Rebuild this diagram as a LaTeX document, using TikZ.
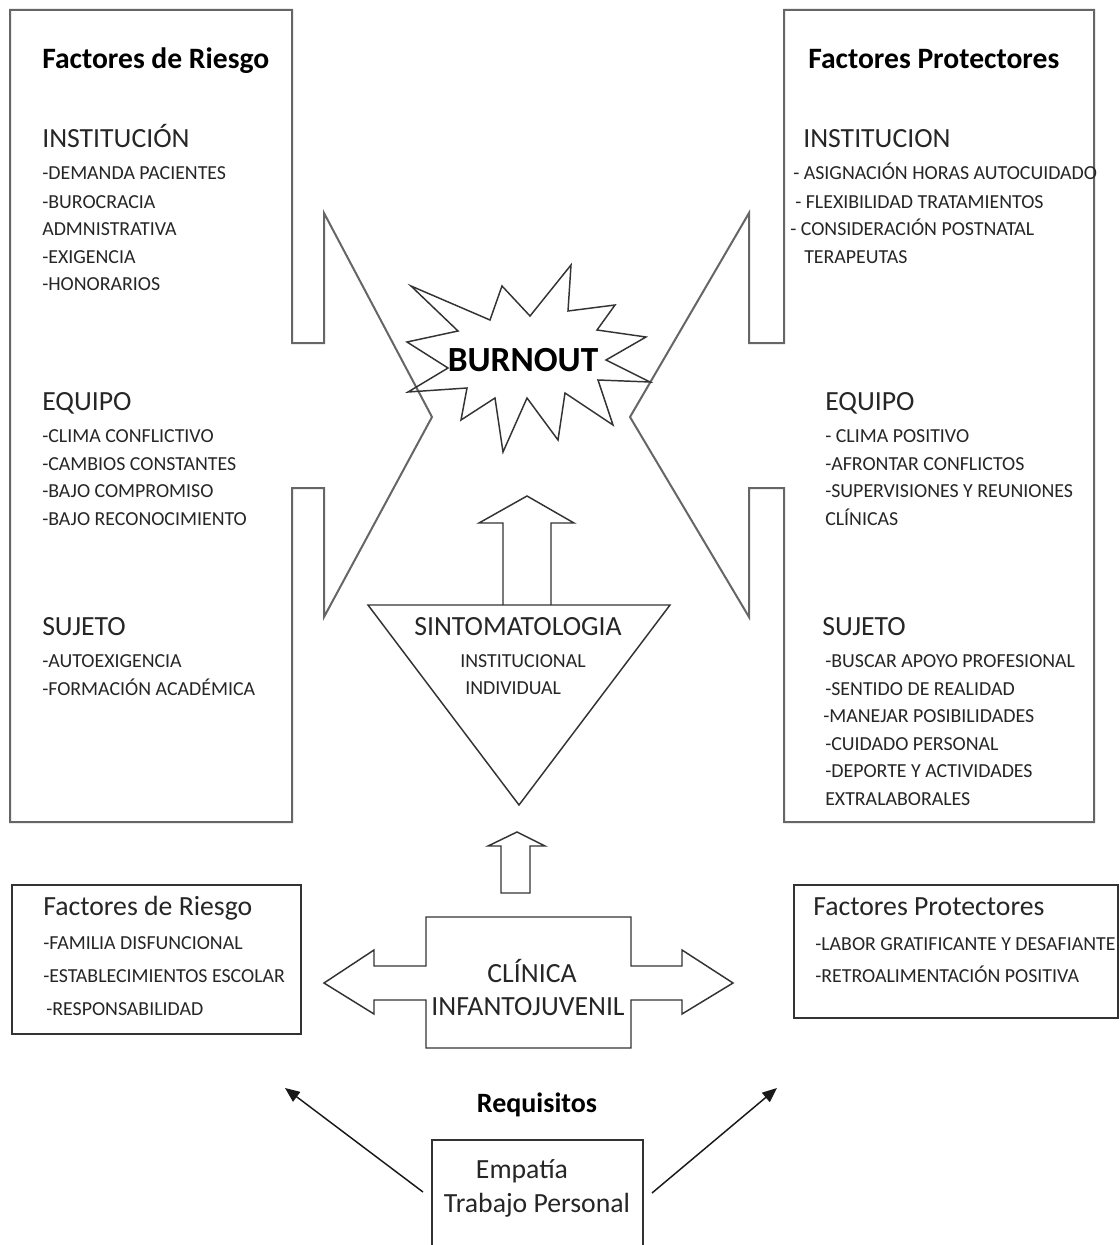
\documentclass[tikz,border=0pt]{standalone}
\usepackage{fontspec}
\setmainfont{Carlito}
\usetikzlibrary{arrows.meta}
\begin{document}
\begin{tikzpicture}[x=0.75pt,y=-0.75pt,
  outl/.style={draw=black!80,line width=1.1pt,line join=miter},
  bigoutl/.style={draw=black!60,line width=1.5pt,line join=miter},
  item/.style={anchor=base west,inner sep=0pt,font=\fontsize{14.9}{17}\selectfont,text=black!85},
  head/.style={anchor=base west,inner sep=0pt,font=\fontsize{20.8}{24}\selectfont,text=black!85},
  ttl/.style={anchor=base west,inner sep=0pt,font=\bfseries\fontsize{22.2}{26}\selectfont,text=black},
  cb/.style={anchor=base,inner sep=0pt},
  conn/.style={draw=black!90,line width=1.1pt,-{Triangle[length=11pt,width=9pt]}}
]
\useasboundingbox (0,0) rectangle (1120,1245);
\fill[white] (0,0) rectangle (1120,1245);

% big callout shapes
\draw[bigoutl] (10,10) -- (292,10) -- (292,343) -- (324,343) -- (324,213) -- (432,417)
  -- (324,617) -- (324,488) -- (292,488) -- (292,822) -- (10,822) -- cycle;
\draw[bigoutl] (1094,10) -- (784,10) -- (784,343) -- (749,343) -- (749,213) -- (630,417)
  -- (749,617) -- (749,488) -- (784,488) -- (784,822) -- (1094,822) -- cycle;

% burst
\draw[outl] (411,286) -- (490,320) -- (502,286) -- (530,316) -- (571,265) -- (568,311)
  -- (615,305) -- (597,330) -- (646,337) -- (606,360) -- (650,382) -- (598,380)
  -- (613,425) -- (565,393) -- (558,440) -- (527,398) -- (503,452) -- (495,398)
  -- (461,420) -- (467,388) -- (408,392) -- (448,368) -- (407,342) -- (458,331) -- cycle;
\node[inner sep=0pt,font=\bfseries\fontsize{26.5}{30}\selectfont] (burn) at (523,360) {BURNOUT};

% triangle and arrow
\draw[outl] (368,605) -- (670,605) -- (519,805) -- cycle;
\draw[outl] (503,605) -- (503,523) -- (479,523) -- (527,496) -- (574,523) -- (551,523) -- (551,605);
\node[cb,font=\fontsize{20.8}{24}\selectfont,text=black!85] (sint) at (518,635) {SINTOMATOLOGIA};
\node[item] (sinst) at (460,667) {INSTITUCIONAL};
\node[item] (sindv) at (465,694) {INDIVIDUAL};

% small up arrow
\draw[outl] (501,893) -- (501,846) -- (488,846) -- (517,832) -- (545,846) -- (530,846) -- (530,893) -- cycle;

% clinic cross
\draw[outl] (426,917) -- (631,917) -- (631,966) -- (682,966) -- (682,950) -- (733,983)
  -- (682,1014) -- (682,1000) -- (631,1000) -- (631,1048) -- (426,1048) -- (426,1000)
  -- (374,1000) -- (374,1014) -- (324,983) -- (374,950) -- (374,966) -- (426,966) -- cycle;
\node[cb,font=\fontsize{20.8}{24}\selectfont,text=black!85] (cli1) at (532,982) {CLÍNICA};
\node[cb,font=\fontsize{20.8}{24}\selectfont,text=black!85] (cli2) at (528,1015) {INFANTOJUVENIL};

% left big box text
\node[ttl] (lt) at (42,69) {Factores de Riesgo};
\node[head] (lh1) at (42,148) {INSTITUCIÓN};
\node[item] (l11) at (42,180) {-DEMANDA PACIENTES};
\node[item] (l12) at (42,208) {-BUROCRACIA};
\node[item] (l13) at (42,235) {ADMNISTRATIVA};
\node[item] (l14) at (42,263) {-EXIGENCIA};
\node[item] (l15) at (42,290) {-HONORARIOS};
\node[head] (lh2) at (42,410) {EQUIPO};
\node[item] (l21) at (42,442) {-CLIMA CONFLICTIVO};
\node[item] (l22) at (42,470) {-CAMBIOS CONSTANTES};
\node[item] (l23) at (42,497) {-BAJO COMPROMISO};
\node[item] (l24) at (42,525) {-BAJO RECONOCIMIENTO};
\node[head] (lh3) at (42,635) {SUJETO};
\node[item] (l31) at (42,667) {-AUTOEXIGENCIA};
\node[item] (l32) at (42,695) {-FORMACIÓN ACADÉMICA};

% right big box text
\node[ttl] (rt) at (808,69) {Factores Protectores};
\node[head] (rh1) at (803,148) {INSTITUCION};
\node[item] (r11) at (793,180) {- ASIGNACIÓN HORAS AUTOCUIDADO};
\node[item] (r12) at (795,208) {- FLEXIBILIDAD TRATAMIENTOS};
\node[item] (r13) at (790,235) {- CONSIDERACIÓN POSTNATAL};
\node[item] (r14) at (804,263) {TERAPEUTAS};
\node[head] (rh2) at (825,410) {EQUIPO};
\node[item] (r21) at (825,442) {- CLIMA POSITIVO};
\node[item] (r22) at (825,470) {-AFRONTAR CONFLICTOS};
\node[item] (r23) at (825,497) {-SUPERVISIONES Y REUNIONES};
\node[item] (r24) at (825,525) {CLÍNICAS};
\node[head] (rh3) at (822,635) {SUJETO};
\node[item] (r31) at (825,667) {-BUSCAR APOYO PROFESIONAL};
\node[item] (r32) at (825,695) {-SENTIDO DE REALIDAD};
\node[item] (r33) at (823,722) {-MANEJAR POSIBILIDADES};
\node[item] (r34) at (825,750) {-CUIDADO PERSONAL};
\node[item] (r35) at (825,777) {-DEPORTE Y ACTIVIDADES};
\node[item] (r36) at (825,805) {EXTRALABORALES};

% bottom left box
\draw[outl] (12,885) rectangle (301,1034);
\node[head] (blt) at (43,915) {Factores de Riesgo};
\node[item] (bl1) at (43,949) {-FAMILIA DISFUNCIONAL};
\node[item] (bl2) at (43,982) {-ESTABLECIMIENTOS ESCOLAR};
\node[item] (bl3) at (46,1015) {-RESPONSABILIDAD};

% bottom right box
\draw[outl] (794,885) rectangle (1118,1018);
\node[head] (brt) at (813,915) {Factores Protectores};
\node[item] (br1) at (815,950) {-LABOR GRATIFICANTE Y DESAFIANTE};
\node[item] (br2) at (815,982) {-RETROALIMENTACIÓN POSITIVA};

% requisitos
\node[cb,font=\bfseries\fontsize{21}{24}\selectfont] (req) at (537,1112) {Requisitos};
\draw[outl] (432,1250) -- (432,1140) -- (643,1140) -- (643,1250);
\node[cb,font=\fontsize{20.8}{24}\selectfont,text=black!85] (emp) at (522,1178) {Empatía};
\node[cb,font=\fontsize{20.8}{24}\selectfont,text=black!85] (trab) at (537,1212) {Trabajo Personal};

\coordinate (ltail) at (423,1192);
\coordinate (lhead) at (285,1088);
\coordinate (rtail) at (652,1193);
\coordinate (rhead) at (777,1088);
\draw[conn] (ltail) -- (lhead);
\draw[conn] (rtail) -- (rhead);
\end{tikzpicture}
\end{document}
